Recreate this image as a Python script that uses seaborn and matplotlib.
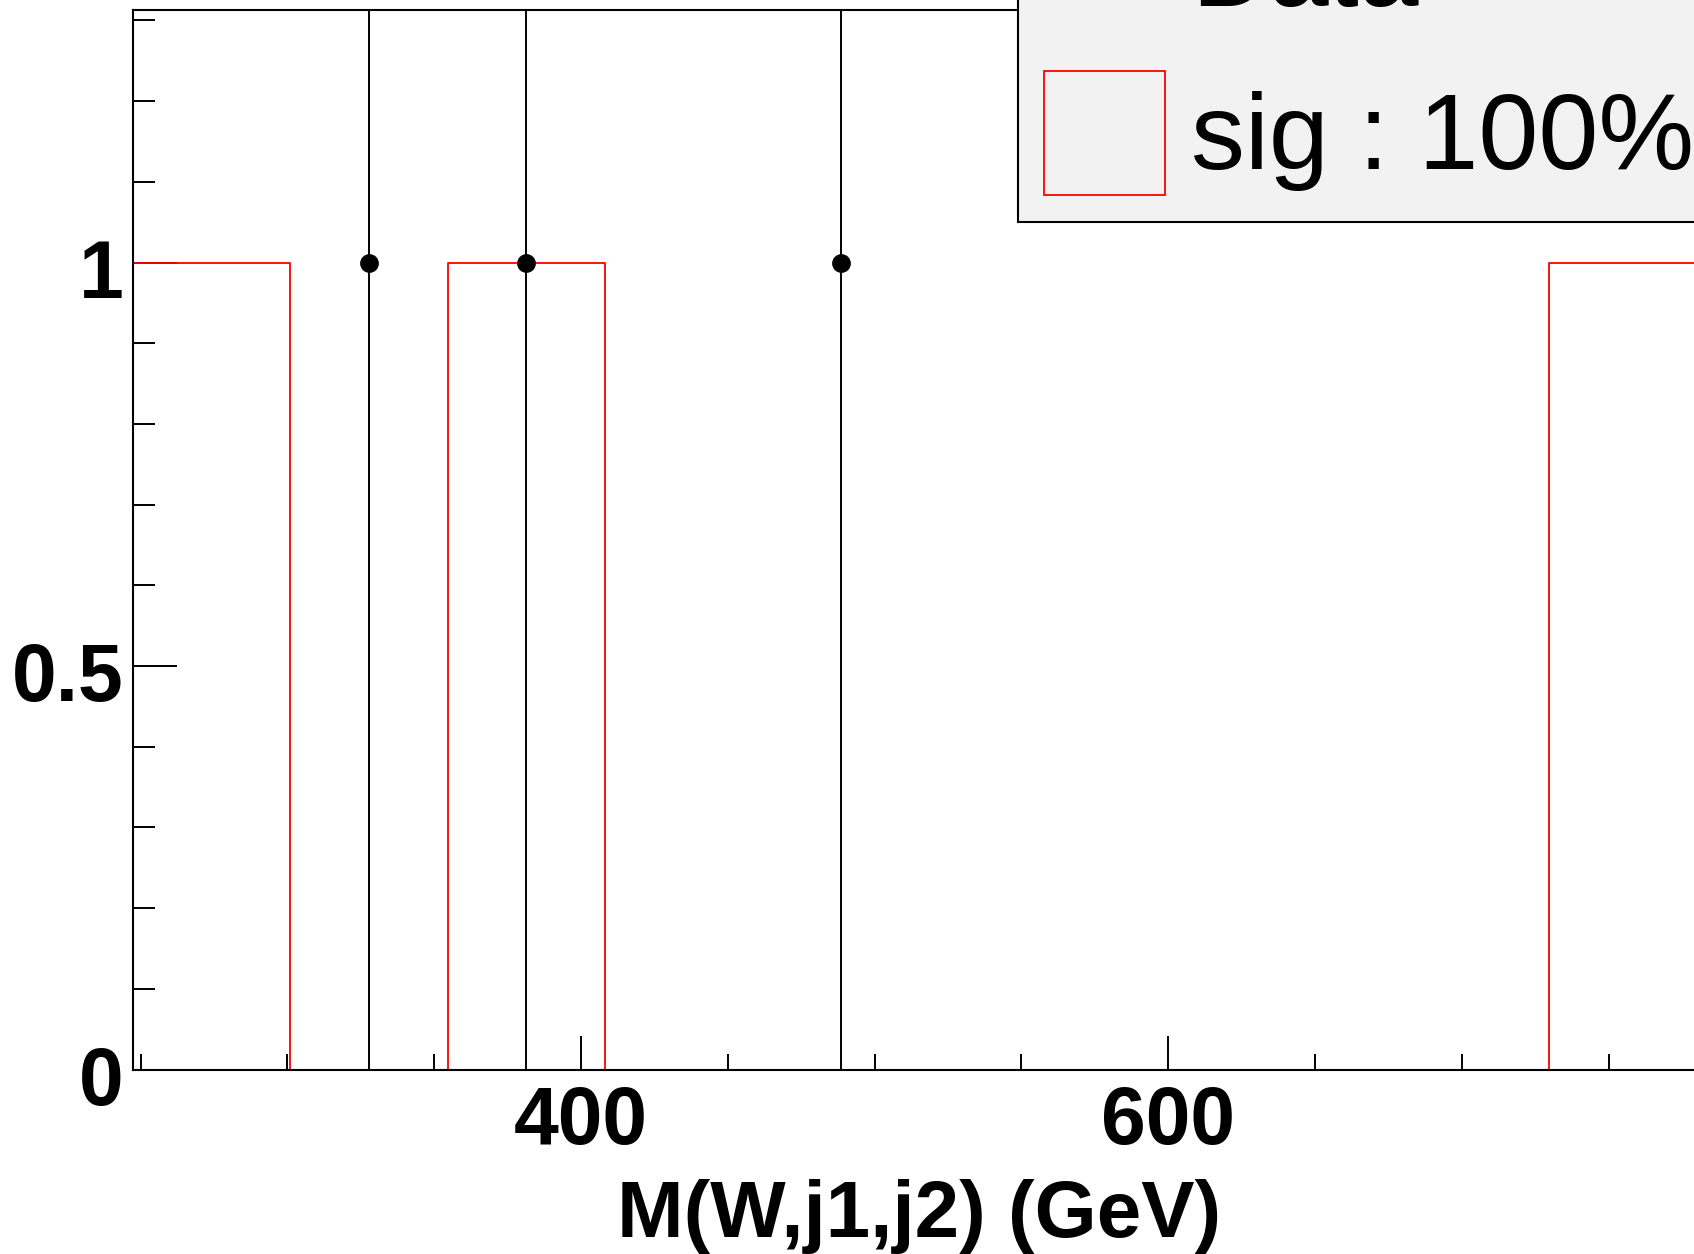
import numpy as np
import pandas as pd
import matplotlib
matplotlib.use('Agg')
import matplotlib.pyplot as plt
import matplotlib.transforms as mtransforms
import seaborn as sns
from matplotlib.lines import Line2D
from matplotlib.patches import Patch
from matplotlib.ticker import MultipleLocator, FixedLocator

plt.rcParams['font.family'] = ['Liberation Sans', 'DejaVu Sans']

# ---- data ----
bin_edges = [247.4, 301.0, 354.6, 408.2, 461.7, 515.3, 568.9, 622.5, 676.1, 729.6, 783.2]
sig_counts = [1, 0, 1, 0, 0, 0, 0, 0, 0, 1]
data_counts = [0, 1, 1, 0, 1, 0, 0, 0, 0, 0]
x_ticks = [400, 600]
y_ticks = [0, 0.5, 1]
y_tick_labels = ['0', '0.5', '1']
x_title = 'M(W,j1,j2) (GeV)'
legend_labels = ['Data', 'sig : 100%']

W, H = 1694, 1254
fig = plt.figure(figsize=(W / 100, H / 100), dpi=100)
ax = fig.add_axes([133 / W, 1 - 1069.6 / H, (1706 - 133) / W, (1069.6 - 10) / H])

edges = np.array(bin_edges)
centers = 0.5 * (edges[:-1] + edges[1:])
sig_df = pd.DataFrame({'mass': centers, 'w': np.array(sig_counts, float)})

sns.histplot(data=sig_df, x='mass', weights='w', bins=list(bin_edges), element='step',
             fill=False, color='red', linewidth=1.3, ax=ax)

dc = np.array(data_counts, float)
m = dc > 0
ax.errorbar(centers[m], dc[m], yerr=np.sqrt(dc[m]), fmt='o', color='black', ms=12.5,
            elinewidth=1.4, capsize=0, zorder=5)

ax.set_xlim(edges[0], edges[-1])
ax.set_ylim(0, 1.313)

for s in ax.spines.values():
    s.set_linewidth(1.5)
    s.set_color('black')

ax.xaxis.set_major_locator(FixedLocator(x_ticks))
ax.xaxis.set_minor_locator(MultipleLocator(50))
ax.yaxis.set_major_locator(FixedLocator(y_ticks))
ax.set_yticklabels(y_tick_labels)
ax.yaxis.set_minor_locator(MultipleLocator(0.1))
ax.tick_params(which='both', direction='in', width=1.4, top=False, right=False,
               labelsize=58, color='black')
ax.tick_params(axis='x', which='major', length=24.5, pad=11)
ax.tick_params(axis='x', which='minor', length=11.5)
ax.tick_params(axis='y', which='major', length=31.7, pad=7)
ax.tick_params(axis='y', which='minor', length=15.8)
for lab in ax.get_xticklabels() + ax.get_yticklabels():
    lab.set_fontweight('bold')
offset = mtransforms.ScaledTranslation(0, -4 / 72, fig.dpi_scale_trans)
for t in ax.yaxis.get_major_ticks():
    t.label1.set_transform(t.label1.get_transform() + offset)
ax.set_ylabel('')
ax.set_xlabel(x_title, fontsize=57.5, fontweight='bold', labelpad=13)

handles = [Line2D([], [], marker='o', color='black', ls='none', ms=12.5),
           Patch(facecolor='none', edgecolor='red', linewidth=1.3)]
leg = ax.legend(handles, legend_labels, loc='lower left',
                bbox_to_anchor=(1017.7 / W, 1 - 221.7 / H), bbox_transform=fig.transFigure,
                borderaxespad=0, fontsize=77.5, handlelength=1.125, handleheight=1.4,
                labelspacing=0.362, borderpad=0.245, handletextpad=0.24, frameon=True,
                fancybox=False, framealpha=1, facecolor='#f2f2f2', edgecolor='black')
leg.get_frame().set_linewidth(1.5)

fig.savefig('out.png', dpi=100)
